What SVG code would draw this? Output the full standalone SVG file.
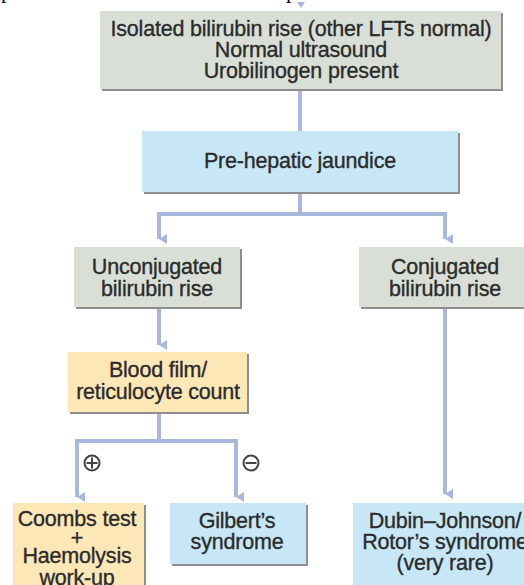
<svg xmlns="http://www.w3.org/2000/svg" width="524" height="585" viewBox="0 0 524 585">
<defs>
<marker id="ah" markerWidth="10" markerHeight="8" refX="5" refY="8" orient="auto" markerUnits="userSpaceOnUse" viewBox="0 0 10 8">
<path d="M0,0 L10,0 L5,8 Z" fill="#a9b7dd"/>
</marker>
</defs>
<style>
text{font-family:"Liberation Sans",Arial,sans-serif;font-size:21.5px;fill:#2b2b2b;stroke:#2b2b2b;stroke-width:0.35;text-anchor:middle;letter-spacing:-0.2px}
text.frag{font-family:"Liberation Serif","Times New Roman",serif;font-size:22px;fill:#000;stroke:none;text-anchor:start;letter-spacing:0}
.gray{fill:#d9dfd7}
.blue{fill:#c7e7f6}
.orange{fill:#fde7b7}
.sh{fill:#8e8e8e}
.c{fill:none;stroke:#a9b7dd;stroke-width:4}
.sym{fill:none;stroke:#444;stroke-width:2}
</style>
<rect width="524" height="585" fill="#fff"/>
<text class="frag" x="1" y="-2">p</text>
<text class="frag" x="286" y="-2">p</text>
<g id="connectors">
<path class="c" d="M300,89 V131"/>
<path class="c" d="M300,192 V214 M159,214 H445 M159,212 V238 M445,212 V238" />
<path class="c" d="M159,214 V239" marker-end="url(#ah)"/>
<path class="c" d="M445,214 V239" marker-end="url(#ah)"/>
<path class="c" d="M159,307 V345" marker-end="url(#ah)"/>
<path class="c" d="M159,412 V441 M77,441 H236"/>
<path class="c" d="M77,439 V497" marker-end="url(#ah)"/>
<path class="c" d="M236,439 V497" marker-end="url(#ah)"/>
<path class="c" d="M445,307 V494" marker-end="url(#ah)"/>
<path d="M297,2 L305,2 L301,8 Z" fill="#a9b7dd"/>
</g>
<g id="n1">
<rect class="sh" x="102" y="13" width="401" height="78"/>
<rect class="gray" x="100" y="11" width="401" height="78"/>
<text x="301" y="36">Isolated bilirubin rise (other LFTs normal)</text>
<text x="301" y="57">Normal ultrasound</text>
<text x="301" y="78">Urobilinogen present</text>
</g>
<g id="n2">
<rect class="sh" x="144" y="133" width="316" height="61"/>
<rect class="blue" x="142" y="131" width="316" height="61"/>
<text x="300" y="168">Pre-hepatic jaundice</text>
</g>
<g id="n3">
<rect class="sh" x="76" y="249" width="166" height="60"/>
<rect class="gray" x="74" y="247" width="166" height="60"/>
<text x="157" y="274">Unconjugated</text>
<text x="157" y="296">bilirubin rise</text>
</g>
<g id="n4">
<rect class="sh" x="361" y="249" width="166" height="60"/>
<rect class="gray" x="359" y="247" width="168" height="60"/>
<text x="445" y="274">Conjugated</text>
<text x="445" y="296">bilirubin rise</text>
</g>
<g id="n5">
<rect class="sh" x="70" y="354" width="179" height="60"/>
<rect class="orange" x="68" y="352" width="179" height="60"/>
<text x="158" y="377">Blood film/</text>
<text x="158" y="399">reticulocyte count</text>
</g>
<g id="sym">
<circle class="sym" cx="92" cy="463" r="7.5"/>
<path class="sym" d="M86.5,463 H97.5 M92,457.5 V468.5"/>
<circle class="sym" cx="251" cy="463" r="7.5"/>
<path class="sym" d="M245.5,463 H256.5"/>
</g>
<g id="n6">
<rect class="sh" x="15" y="505" width="131" height="82"/>
<rect class="orange" x="13" y="503" width="131" height="84"/>
<text x="77" y="526">Coombs test</text>
<text x="77" y="545">+</text>
<text x="77" y="563">Haemolysis</text>
<text x="77" y="585">work-up</text>
</g>
<g id="n7">
<rect class="sh" x="172" y="505" width="136" height="61"/>
<rect class="blue" x="170" y="503" width="136" height="61"/>
<text x="237" y="528">Gilbert’s</text>
<text x="237" y="549">syndrome</text>
</g>
<g id="n8">
<rect class="sh" x="355" y="505" width="172" height="82"/>
<rect class="blue" x="353" y="503" width="174" height="84"/>
<text x="445" y="528">Dubin–Johnson/</text>
<text x="445" y="549">Rotor’s syndrome</text>
<text x="445" y="570">(very rare)</text>
</g>
</svg>
